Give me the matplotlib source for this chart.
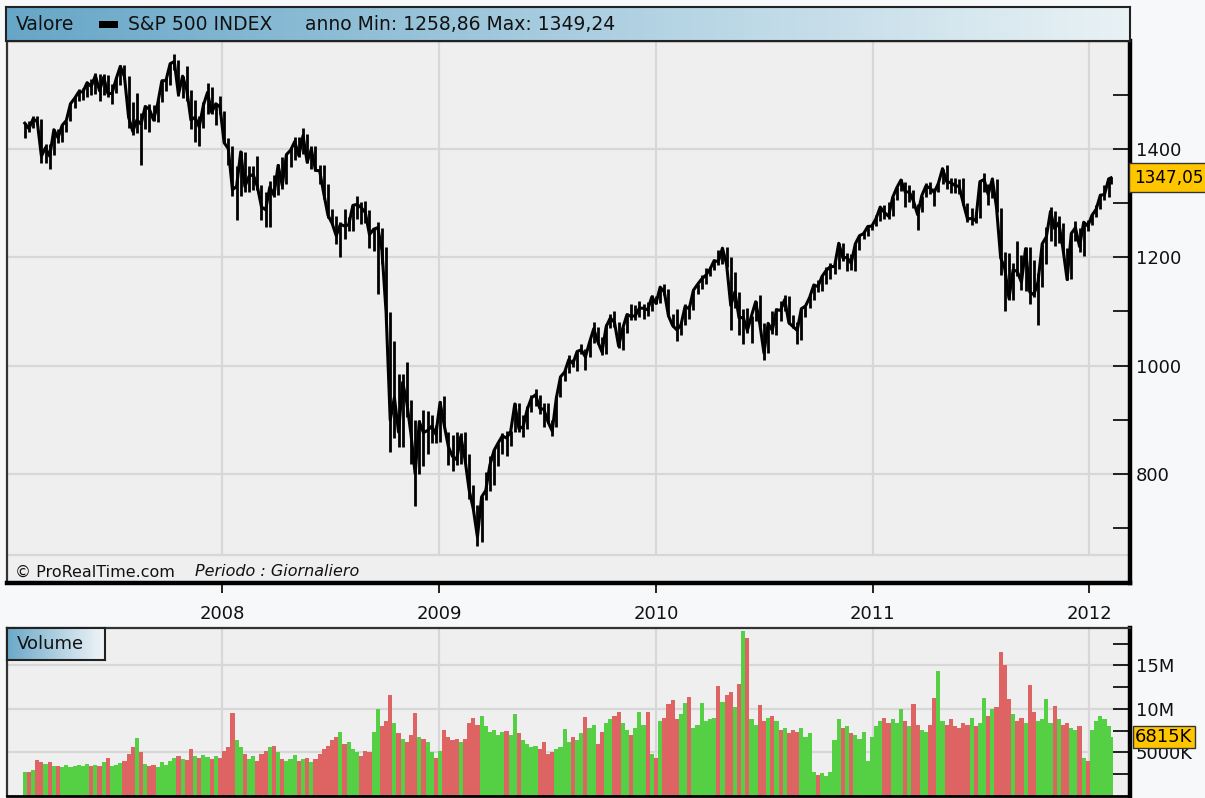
import numpy as np
import pandas as pd
import matplotlib
matplotlib.use('Agg')
import matplotlib.pyplot as plt
from matplotlib.colors import LinearSegmentedColormap
from matplotlib.patches import Rectangle
from matplotlib.transforms import blended_transform_factory

# S&P 500, one bar per week (Friday close).
# Weeks start 2007-02-02; the very last entry is the session of 2012-02-07.
close_07 = [1448, 1438, 1456, 1451, 1387, 1403, 1387, 1436, 1421, 1444, 1453, 1484, 1494, 1506, 1506, 1523,
            1516, 1536, 1508, 1533, 1503, 1503, 1530, 1553, 1534, 1459, 1433, 1454, 1446, 1479, 1474, 1454,
            1484, 1526, 1527, 1558, 1562, 1501, 1535, 1510, 1454, 1459, 1441, 1481, 1505, 1468, 1484, 1478]
high_07 = [1449, 1453, 1461, 1461, 1456, 1410, 1410, 1438, 1438, 1445, 1453, 1485, 1499, 1511, 1513, 1523,
           1530, 1540, 1539, 1539, 1537, 1520, 1534, 1555, 1555, 1535, 1488, 1504, 1466, 1480, 1483, 1481,
           1491, 1529, 1532, 1560, 1576, 1565, 1536, 1553, 1510, 1491, 1461, 1488, 1523, 1515, 1486, 1498]
low_07 = [1420, 1431, 1439, 1449, 1374, 1374, 1364, 1390, 1411, 1413, 1431, 1452, 1476, 1489, 1491, 1497,
          1501, 1502, 1490, 1500, 1497, 1484, 1503, 1518, 1529, 1440, 1427, 1430, 1371, 1438, 1432, 1453,
          1451, 1488, 1507, 1519, 1547, 1499, 1494, 1490, 1437, 1413, 1406, 1440, 1465, 1465, 1445, 1465]

close_08 = [1412, 1401, 1325, 1331, 1395, 1331, 1350, 1353, 1331, 1293, 1288, 1330, 1315, 1370, 1333, 1390,
            1398, 1414, 1388, 1425, 1376, 1400, 1361, 1360, 1318, 1278, 1263, 1240, 1261, 1258, 1260, 1296,
            1298, 1292, 1283, 1242, 1252, 1255, 1213, 1099, 899, 941, 877, 969, 931, 873, 800, 896,
            876, 880, 888, 873]
high_08 = [1471, 1420, 1406, 1368, 1396, 1395, 1368, 1368, 1388, 1334, 1321, 1341, 1352, 1372, 1386, 1391,
           1404, 1422, 1423, 1440, 1428, 1406, 1405, 1370, 1371, 1335, 1290, 1277, 1265, 1290, 1275, 1298,
           1313, 1302, 1304, 1287, 1255, 1265, 1255, 1220, 1099, 1045, 985, 984, 1007, 936, 899, 899,
           918, 916, 909, 890]
low_08 = [1411, 1370, 1313, 1270, 1314, 1321, 1320, 1325, 1325, 1270, 1257, 1257, 1312, 1316, 1327, 1335,
          1367, 1380, 1386, 1392, 1374, 1364, 1360, 1335, 1308, 1272, 1261, 1225, 1200, 1234, 1248, 1248,
          1271, 1262, 1263, 1217, 1212, 1133, 1188, 1085, 840, 866, 850, 849, 904, 818, 741, 800,
          815, 837, 857, 857]

close_09 = [932, 890, 850, 832, 826, 869, 827, 770, 735, 683, 757, 769, 816, 843, 857, 870,
            866, 878, 929, 883, 887, 919, 940, 946, 921, 919, 896, 879, 940, 979, 988, 1011,
            1004, 1026, 1029, 1016, 1043, 1068, 1044, 1025, 1072, 1088, 1080, 1036, 1069, 1094, 1091, 1092,
            1106, 1106, 1103, 1127]
high_09 = [934, 943, 877, 871, 877, 875, 877, 837, 780, 742, 758, 804, 832, 845, 857, 876,
           879, 879, 930, 930, 909, 925, 945, 956, 945, 931, 931, 899, 942, 979, 993, 1019,
           1013, 1027, 1039, 1030, 1049, 1080, 1072, 1052, 1076, 1096, 1101, 1080, 1072, 1097, 1114, 1112,
           1120, 1113, 1117, 1130]
low_09 = [858, 886, 817, 805, 816, 818, 822, 754, 734, 667, 673, 751, 768, 779, 814, 837,
          832, 851, 878, 878, 868, 883, 915, 926, 911, 887, 893, 869, 886, 942, 972, 986,
          997, 990, 1022, 992, 1016, 1042, 1039, 1020, 1022, 1070, 1072, 1033, 1029, 1060, 1084, 1085,
          1090, 1086, 1092, 1100]

close_10 = [1115, 1145, 1136, 1092, 1074, 1066, 1075, 1109, 1105, 1139, 1150, 1160, 1167, 1178, 1194, 1192,
            1217, 1187, 1111, 1136, 1088, 1089, 1065, 1092, 1118, 1077, 1023, 1078, 1065, 1103, 1102, 1122,
            1079, 1072, 1065, 1105, 1110, 1126, 1149, 1146, 1165, 1176, 1183, 1183, 1226, 1199, 1200, 1189,
            1225, 1240, 1244, 1257, 1258]
high_10 = [1128, 1145, 1150, 1141, 1096, 1104, 1081, 1113, 1112, 1139, 1150, 1167, 1181, 1182, 1196, 1214,
           1218, 1220, 1200, 1173, 1136, 1105, 1106, 1092, 1119, 1131, 1078, 1078, 1100, 1106, 1120, 1130,
           1129, 1094, 1081, 1105, 1111, 1131, 1149, 1158, 1168, 1182, 1190, 1196, 1227, 1226, 1208, 1207,
           1226, 1241, 1247, 1259, 1260]
low_10 = [1114, 1116, 1130, 1091, 1071, 1045, 1057, 1075, 1086, 1103, 1133, 1141, 1151, 1165, 1176, 1186,
          1187, 1182, 1066, 1107, 1056, 1040, 1060, 1042, 1083, 1072, 1011, 1023, 1059, 1056, 1082, 1101,
          1076, 1070, 1040, 1048, 1090, 1107, 1122, 1136, 1138, 1151, 1160, 1170, 1179, 1194, 1174, 1176,
          1175, 1214, 1234, 1239, 1250]

close_11 = [1272, 1293, 1283, 1276, 1311, 1329, 1343, 1321, 1321, 1304, 1279, 1314, 1332, 1328, 1320, 1337,
            1364, 1340, 1338, 1333, 1331, 1300, 1271, 1272, 1268, 1340, 1344, 1316, 1345, 1292, 1199, 1179,
            1124, 1177, 1174, 1154, 1216, 1136, 1131, 1155, 1225, 1238, 1285, 1253, 1264, 1216, 1159, 1244,
            1255, 1220, 1265, 1258]
high_11 = [1278, 1293, 1296, 1302, 1311, 1331, 1344, 1339, 1333, 1324, 1298, 1314, 1337, 1339, 1328, 1338,
           1364, 1371, 1346, 1346, 1345, 1346, 1301, 1292, 1284, 1341, 1356, 1335, 1347, 1345, 1292, 1209,
           1208, 1190, 1231, 1204, 1220, 1220, 1195, 1172, 1225, 1256, 1293, 1285, 1277, 1264, 1217, 1244,
           1267, 1255, 1265, 1269]
low_11 = [1258, 1267, 1271, 1271, 1277, 1306, 1322, 1294, 1302, 1292, 1250, 1284, 1312, 1318, 1295, 1320,
          1336, 1327, 1319, 1319, 1318, 1296, 1265, 1259, 1263, 1272, 1320, 1296, 1309, 1283, 1168, 1101,
          1122, 1121, 1166, 1140, 1137, 1114, 1127, 1075, 1146, 1187, 1230, 1221, 1226, 1208, 1158, 1160,
          1231, 1210, 1202, 1248]

close_12 = [1278, 1289, 1315, 1316, 1345, 1347.05]
high_12 = [1281, 1297, 1316, 1333, 1346, 1349]
low_12 = [1259, 1275, 1290, 1306, 1312, 1336]

# volume, millions
vol_07 = [2.7, 2.8, 3.0, 4.1, 3.9, 3.7, 3.9, 3.5, 3.4, 3.3, 3.6, 3.3, 3.5, 3.6, 3.4, 3.7,
          3.4, 3.6, 3.5, 3.9, 4.4, 3.4, 3.6, 3.8, 4.0, 4.8, 5.6, 6.7, 5.0, 3.7, 3.5, 3.6,
          3.3, 3.9, 3.6, 4.0, 4.4, 4.6, 4.3, 4.1, 5.4, 4.6, 4.4, 4.7, 4.5, 4.3, 4.6, 4.4]
vol_08 = [5.2, 5.6, 9.5, 6.4, 5.6, 4.8, 4.2, 4.6, 4.0, 4.8, 5.2, 5.6, 5.8, 5.0, 4.3, 4.0,
          4.2, 4.7, 4.0, 4.2, 4.4, 3.9, 4.3, 4.8, 5.4, 5.8, 6.4, 6.8, 7.4, 6.0, 6.2, 5.4,
          5.0, 4.6, 5.2, 5.0, 7.4, 10.0, 8.0, 8.6, 11.6, 8.4, 7.2, 6.6, 6.2, 7.0, 9.5, 6.8,
          6.6, 6.2, 5.0, 4.4]
vol_09 = [5.2, 7.6, 6.8, 6.4, 6.6, 6.2, 6.6, 8.4, 9.0, 8.2, 9.2, 8.0, 7.4, 7.6, 7.0, 7.3,
          7.5, 7.0, 9.4, 7.2, 6.4, 6.0, 5.6, 5.8, 5.4, 6.2, 4.8, 5.0, 5.4, 5.6, 7.7, 6.2,
          6.8, 6.4, 7.2, 9.1, 7.8, 8.2, 6.0, 7.4, 8.4, 8.8, 9.2, 9.7, 8.4, 7.6, 7.0, 7.8,
          9.7, 8.2, 9.6, 4.8]
vol_10 = [4.4, 8.6, 9.0, 10.6, 11.0, 8.8, 9.4, 10.7, 11.4, 7.8, 8.2, 10.7, 8.6, 8.8, 9.0, 12.6,
          10.8, 11.6, 12.0, 10.2, 12.9, 19.0, 18.2, 8.8, 8.2, 10.4, 8.6, 9.0, 9.2, 8.6, 7.6, 7.8,
          7.2, 7.6, 7.4, 7.8, 6.8, 7.2, 2.8, 2.4, 2.6, 2.3, 2.8, 6.4, 8.8, 7.8, 8.0, 7.2,
          7.0, 6.6, 7.4, 4.0, 6.8]
vol_11 = [8.0, 8.6, 9.0, 8.4, 8.8, 8.4, 10.0, 8.6, 8.0, 10.6, 8.2, 7.6, 7.4, 8.2, 11.3, 14.4,
          8.6, 8.2, 8.8, 8.0, 7.8, 8.4, 8.2, 9.0, 8.0, 8.4, 11.3, 9.2, 10.0, 10.2, 16.6, 15.0,
          11.2, 9.4, 8.6, 9.0, 8.4, 12.7, 9.6, 8.6, 8.8, 11.2, 8.4, 10.3, 8.8, 8.2, 8.4, 7.8,
          7.6, 8.0, 4.4, 4.0]
vol_12 = [7.6, 8.6, 9.2, 8.8, 8.0, 6.815]

first_week = '2007-02-02'
last_day = '2012-02-07'
year_ticks = ['2008', '2009', '2010', '2011', '2012']
price_labels = [800, 1000, 1200, 1400]
vol_labels = {5.0: '5000K', 10.0: '10M', 15.0: '15M'}

close = np.array(close_07 + close_08 + close_09 + close_10 + close_11 + close_12, dtype=float)
high = np.array(high_07 + high_08 + high_09 + high_10 + high_11 + high_12, dtype=float)
low = np.array(low_07 + low_08 + low_09 + low_10 + low_11 + low_12, dtype=float)
volume = np.array(vol_07 + vol_08 + vol_09 + vol_10 + vol_11 + vol_12, dtype=float)
dates = pd.date_range(first_week, periods=len(close) - 1, freq='W-FRI').append(pd.DatetimeIndex([last_day]))
up = np.r_[True, close[1:] >= close[:-1]]

W, H = 1205, 798
GRID = '#d7d7d7'
PANEL = '#efefef'
GREEN = '#55cf44'
RED = '#de6464'
YELLOW = '#ffc600'
head_cmap = LinearSegmentedColormap.from_list('head', ['#66a6c7', '#a9cde0', '#e9f2f5'])


def box(x0, y0, x1, y1):
    # pixel box (top-left origin) -> figure fraction rect
    return [x0 / W, 1 - y1 / H, (x1 - x0) / W, (y1 - y0) / H]


def gradient_box(rect, cmap):
    hax = fig.add_axes(rect)
    hax.imshow(np.linspace(0, 1, 256)[None, :], cmap=cmap, aspect='auto', extent=[0, 1, 0, 1])
    hax.set_xlim(0, 1)
    hax.set_ylim(0, 1)
    hax.set_xticks([])
    hax.set_yticks([])
    for s in hax.spines.values():
        s.set_color('#222222')
        s.set_linewidth(1.5)
    return hax


fig = plt.figure(figsize=(W / 100, H / 100), dpi=100)
fig.patch.set_facecolor('#f6f8f9')

xmin, xmax = pd.Timestamp('2007-01-03'), pd.Timestamp('2012-03-10')
years = pd.to_datetime(year_ticks)

# ---- price panel
ax = fig.add_axes(box(7, 41, 1130, 583))
ax.set_facecolor(PANEL)
ax.set_xlim(xmin, xmax)
ax.set_ylim(598, 1600)
ax.vlines(years, 650, 1600, colors=GRID, lw=1.6, zorder=0)
ax.hlines(price_labels + [650], xmin, xmax, colors=GRID, lw=1.6, zorder=0)

ax.vlines(dates, low, high, colors='black', lw=2.0, zorder=3)
ax.plot(dates, close, color='black', lw=2.2, zorder=3)

ax.yaxis.tick_right()
ticks = list(range(700, 1600, 100))
ax.set_yticks(ticks)
ax.set_yticklabels([str(t) if t in price_labels else '' for t in ticks])
ax.tick_params(axis='y', direction='in', length=12, width=1.3, pad=4, labelsize=13, colors='#111111')
ax.set_xticks(years)
ax.set_xticklabels(year_ticks)
ax.tick_params(axis='x', direction='out', length=7, width=1.3, pad=9, labelsize=13, colors='#111111')
for side, lw, col in [('right', 3.2, 'black'), ('bottom', 3.2, 'black'),
                      ('left', 1.6, '#333333'), ('top', 1.0, '#333333')]:
    ax.spines[side].set_linewidth(lw)
    ax.spines[side].set_color(col)

ax.text(1.0035, close[-1], f'{close[-1]:.2f}'.replace('.', ','),
        transform=blended_transform_factory(ax.transAxes, ax.transData),
        ha='left', va='center', fontsize=12.2, clip_on=False, zorder=5,
        bbox=dict(boxstyle='square,pad=0.32', fc=YELLOW, ec='#333333', lw=1))

fig.text(15 / W, 1 - 572 / H, '\u00a9 ProRealTime.com', fontsize=11.5, va='center', color='#111111')
fig.text(195 / W, 1 - 572 / H, 'Periodo : Giornaliero', fontsize=11.5, va='center',
         style='italic', color='#111111')

# ---- header bar
hax = gradient_box(box(6, 7, 1130, 41), head_cmap)
hax.text(10 / 1124, 0.5, 'Valore', fontsize=13.5, va='center', color='#111111')
hax.add_patch(Rectangle((93 / 1124, 0.38), 19 / 1124, 0.22, color='black', lw=0))
hax.text(122 / 1124, 0.5, 'S&P 500 INDEX', fontsize=13.5, va='center', color='#111111')
hax.text(299 / 1124, 0.5, 'anno Min: 1258,86 Max: 1349,24', fontsize=13.5, va='center', color='#111111')

# ---- volume panel
axv = fig.add_axes(box(7, 628, 1130, 796))
axv.set_facecolor(PANEL)
axv.set_xlim(xmin, xmax)
axv.set_ylim(0, 19.3)
axv.vlines(years, 0, 19.3, colors=GRID, lw=1.6, zorder=0)
axv.hlines(list(vol_labels), xmin, xmax, colors=GRID, lw=1.6, zorder=0)
axv.bar(dates, volume, width=7.0, color=np.where(up, GREEN, RED), linewidth=0, zorder=2)

axv.yaxis.tick_right()
vticks = [2.5, 5.0, 7.5, 10.0, 12.5, 15.0, 17.5]
axv.set_yticks(vticks)
axv.set_yticklabels([vol_labels.get(t, '') for t in vticks])
axv.tick_params(axis='y', direction='in', length=12, width=1.3, pad=4, labelsize=13, colors='#111111')
axv.set_xticks([])
for side, lw, col in [('right', 3.2, 'black'), ('bottom', 2.0, 'black'),
                      ('left', 1.6, '#333333'), ('top', 1.6, '#333333')]:
    axv.spines[side].set_linewidth(lw)
    axv.spines[side].set_color(col)

axv.text(1.0045, volume[-1], f'{volume[-1] * 1000:.0f}K',
         transform=blended_transform_factory(axv.transAxes, axv.transData),
         ha='left', va='center', fontsize=13, clip_on=False, zorder=5,
         bbox=dict(boxstyle='square,pad=0.12', fc=YELLOW, ec='#333333', lw=1))

vax = gradient_box(box(7, 628, 105, 660), LinearSegmentedColormap.from_list('vh', ['#6aa8c8', '#f2f6f8']))
vax.text(0.1, 0.5, 'Volume', fontsize=13, va='center', color='#111111')

fig.savefig('out.png', dpi=100, facecolor=fig.get_facecolor())
